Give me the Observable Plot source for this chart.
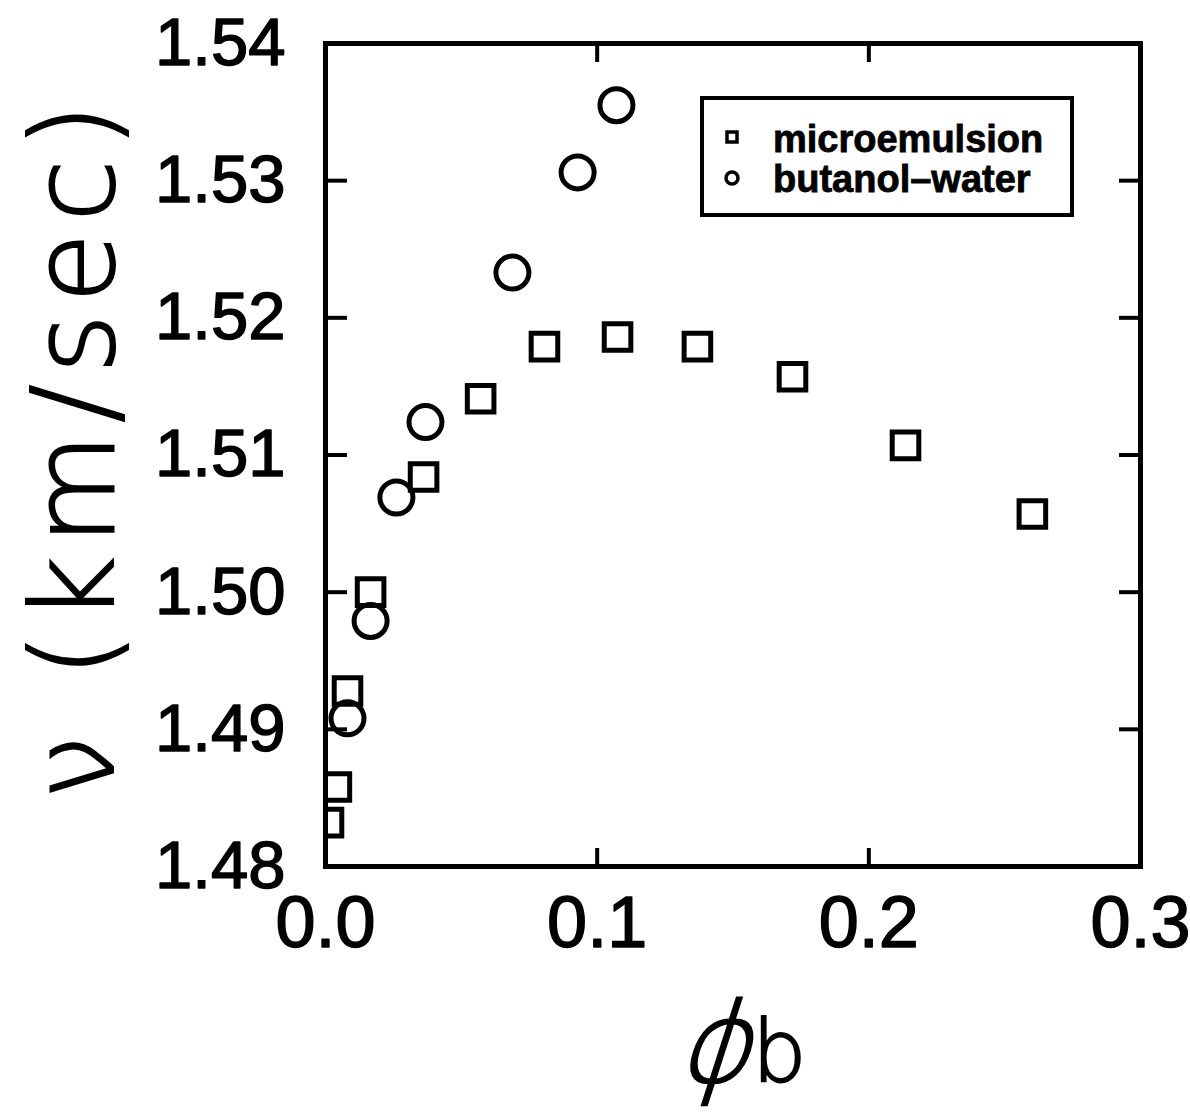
<!DOCTYPE html>
<html><head><meta charset="utf-8">
<script src="https://cdn.jsdelivr.net/npm/d3@7"></script>
<script src="https://cdn.jsdelivr.net/npm/@observablehq/plot@0.6"></script>
<style>body{margin:0;background:#fff} #chart{position:relative;width:1190px;height:1115px}</style>
</head><body><div id="chart"></div>
<script>
// Series names
const seriesNames = ["microemulsion", "butanol–water"];
// microemulsion (squares)
const microX = [0.0011, 0.0040, 0.0081, 0.0166, 0.0361, 0.0571, 0.0806, 0.1075, 0.1369, 0.1719, 0.2135, 0.2602];
const microY = [1.4832, 1.4858, 1.4928, 1.5000, 1.5084, 1.5141, 1.5179, 1.5186, 1.5179, 1.5157, 1.5107, 1.5057];
// butanol-water (circles)
const butX = [0.0081, 0.0166, 0.0261, 0.0368, 0.0688, 0.0928, 0.1071];
const butY = [1.4908, 1.4979, 1.5069, 1.5124, 1.5233, 1.5306, 1.5355];
// ticks
const xTicks = [0, 0.1, 0.2, 0.3];
const yTicks = [1.48, 1.49, 1.50, 1.51, 1.52, 1.53, 1.54];
const yLabel = "ν (km/sec)";
const xLabelMain = "ϕ";
const xLabelSub = "b";

const micro = microX.map((x, i) => ({x, y: microY[i]}));
const butanol = butX.map((x, i) => ({x, y: butY[i]}));

const font = "'Liberation Sans', Arial, sans-serif";
const thin = "'DejaVu Sans', sans-serif";
const plot = Plot.plot({
  width: 1190, height: 1115,
  marginLeft: 325, marginRight: 50, marginTop: 43, marginBottom: 249,
  style: {fontFamily: font, background: "white", color: "black", overflow: "visible"},
  x: {domain: [0, 0.3]},
  y: {domain: [1.48, 1.54]},
  marks: [
    Plot.dot(micro, {x: "x", y: "y", symbol: "square", r: 15, stroke: "black", strokeWidth: 5, fill: "none", clip: true}),
    Plot.dot(butanol, {x: "x", y: "y", symbol: "circle", r: 16.5, stroke: "black", strokeWidth: 5, fill: "none", clip: true}),
    Plot.frame({stroke: "black", strokeWidth: 5}),
    Plot.axisX({anchor: "bottom", ticks: xTicks, tickFormat: d3.format(".1f"), tickSize: -18, tickPadding: 47, fontSize: 72, strokeWidth: 4, textStroke: "black", textStrokeWidth: 1.5, label: null}),
    Plot.axisX({anchor: "top", ticks: xTicks, tickFormat: () => "", tickSize: -18, strokeWidth: 4, label: null}),
    Plot.axisY({anchor: "left", ticks: yTicks, tickFormat: d3.format(".2f"), tickSize: -22, tickPadding: 62, fontSize: 67, strokeWidth: 4, textStroke: "black", textStrokeWidth: 1.5, label: null}),
    Plot.axisY({anchor: "right", ticks: yTicks, tickFormat: () => "", tickSize: -22, strokeWidth: 4, label: null})
  ]
});
document.getElementById("chart").appendChild(plot);

const svg = d3.select(plot);
// y-axis label
svg.append("text")
  .attr("transform", "translate(113,446) rotate(-90)")
  .attr("text-anchor", "middle")
  .attr("font-family", thin).attr("font-weight", 200)
  .attr("font-size", 114).attr("letter-spacing", 11)
  .attr("fill", "black").attr("stroke", "black").attr("stroke-width", 2)
  .text(yLabel);
// x-axis label
svg.append("text")
  .attr("transform", "translate(712,1082) skewX(-18)")
  .attr("text-anchor", "middle")
  .attr("font-family", thin).attr("font-weight", 200)
  .attr("font-size", 112)
  .attr("fill", "black").attr("stroke", "black").attr("stroke-width", 2)
  .text(xLabelMain);
svg.append("text")
  .attr("x", 752).attr("y", 1081)
  .attr("text-anchor", "start")
  .attr("font-family", thin).attr("font-weight", 200)
  .attr("font-size", 86)
  .attr("fill", "black").attr("stroke", "black").attr("stroke-width", 2)
  .text(xLabelSub);

// legend
const lg = svg.append("g");
lg.append("rect").attr("x", 702).attr("y", 98).attr("width", 370).attr("height", 117)
  .attr("fill", "white").attr("stroke", "black").attr("stroke-width", 4);
lg.append("rect").attr("x", 727).attr("y", 132).attr("width", 10).attr("height", 10)
  .attr("fill", "none").attr("stroke", "black").attr("stroke-width", 3.5);
lg.append("circle").attr("cx", 732).attr("cy", 178).attr("r", 6)
  .attr("fill", "none").attr("stroke", "black").attr("stroke-width", 3.5);
seriesNames.forEach((name, i) => {
  lg.append("text").attr("x", 773).attr("y", 152 + i * 40)
    .attr("text-anchor", "start")
    .attr("font-family", font).attr("font-weight", "bold")
    .attr("font-size", 38).attr("fill", "black")
    .attr("stroke", "black").attr("stroke-width", 0.8)
    .text(name);
});
</script>
</body></html>
